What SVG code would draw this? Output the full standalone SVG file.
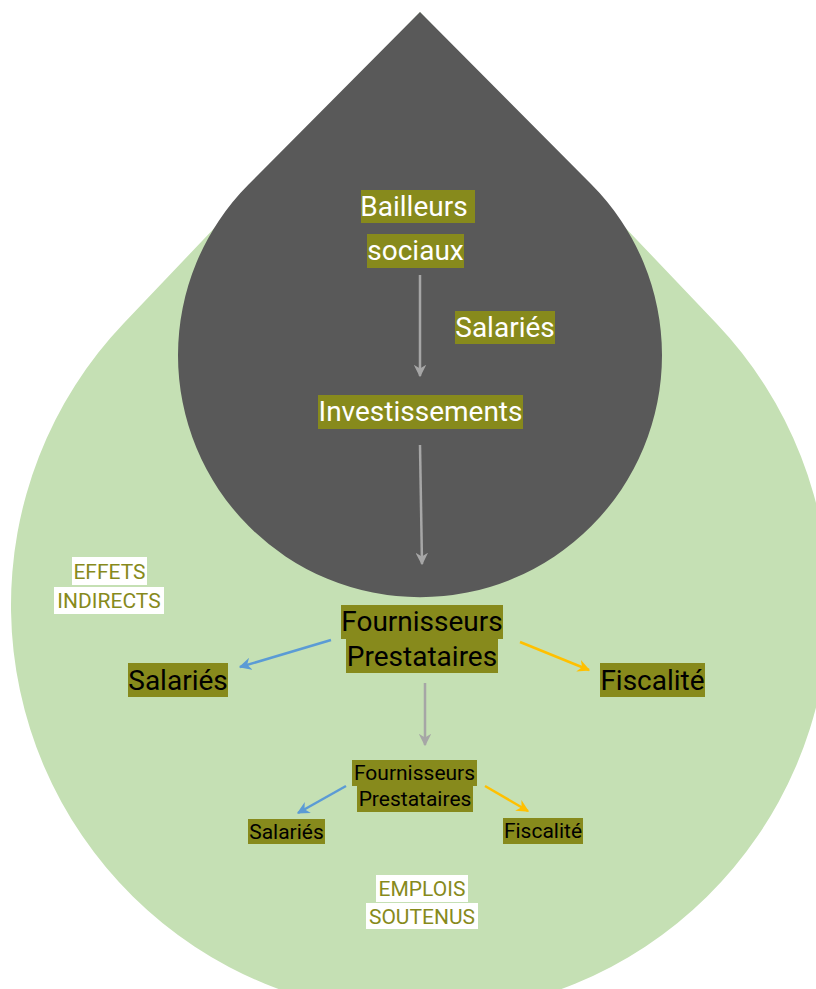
<svg xmlns="http://www.w3.org/2000/svg" width="816" height="989" viewBox="0 0 816 989">
<style>
  .t { font-family: Roboto, "Liberation Sans", sans-serif; text-anchor: middle; }
  .w { fill: #ffffff; font-size: 28px; }
  .b { fill: #000000; font-size: 28px; }
  .s { fill: #000000; font-size: 21px; }
  .o { fill: #878A1C; font-size: 21px; }
  .box { fill: #878A1C; }
  .wb { fill: #ffffff; }
  .gray { stroke: #A6A6A6; stroke-width: 2.5; fill: none; }
  .blue { stroke: #5B9BD5; stroke-width: 2.5; fill: none; }
  .yel { stroke: #FFC000; stroke-width: 2.5; fill: none; }
</style>
<defs>
  <marker id="ag" viewBox="0 0 10 10" refX="9" refY="5" markerWidth="5" markerHeight="5" orient="auto" markerUnits="strokeWidth">
    <path d="M0,0 L10,5 L0,10 L3,5 Z" fill="#A6A6A6"/>
  </marker>
  <marker id="ab" viewBox="0 0 10 10" refX="9" refY="5" markerWidth="5" markerHeight="5" orient="auto" markerUnits="strokeWidth">
    <path d="M0,0 L10,5 L0,10 L3,5 Z" fill="#5B9BD5"/>
  </marker>
  <marker id="ay" viewBox="0 0 10 10" refX="9" refY="5" markerWidth="5" markerHeight="5" orient="auto" markerUnits="strokeWidth">
    <path d="M0,0 L10,5 L0,10 L3,5 Z" fill="#FFC000"/>
  </marker>
</defs>
<g id="green-drop">
  <path d="M420,12 L124,323 A409,409 0 1 0 716,323 Z" fill="#C5E0B4"/>
</g>
<g id="dark-drop">
  <path d="M420,12 L249,184 A242,242 0 1 0 591,184 Z" fill="#595959"/>
</g>
<g id="connectors">
  <line class="gray" x1="420" y1="275" x2="420" y2="376" marker-end="url(#ag)"/>
  <line class="gray" x1="420" y1="445" x2="422" y2="564" marker-end="url(#ag)"/>
  <line class="blue" x1="331" y1="640" x2="240" y2="667" marker-end="url(#ab)"/>
  <line class="yel" x1="520" y1="642" x2="589" y2="670" marker-end="url(#ay)"/>
  <line class="gray" x1="425" y1="683" x2="425" y2="745" marker-end="url(#ag)"/>
  <line class="blue" x1="346" y1="786" x2="298" y2="813" marker-end="url(#ab)"/>
  <line class="yel" x1="485" y1="786" x2="528" y2="811" marker-end="url(#ay)"/>
</g>
<g id="bailleurs">
  <rect class="box" x="361" y="190" width="114" height="33"/>
  <text class="t w" x="414" y="216">Bailleurs</text>
  <rect class="box" x="367" y="234" width="97" height="34"/>
  <text class="t w" x="415.5" y="260">sociaux</text>
</g>
<g id="salaries-top">
  <rect class="box" x="455" y="311" width="100" height="33"/>
  <text class="t w" x="505" y="337">Salariés</text>
</g>
<g id="investissements">
  <rect class="box" x="318" y="395" width="205" height="34"/>
  <text class="t w" x="420.5" y="421">Investissements</text>
</g>
<g id="fournisseurs1">
  <rect class="box" x="341" y="605" width="162" height="34"/>
  <text class="t b" x="422" y="631">Fournisseurs</text>
  <rect class="box" x="346" y="639" width="152" height="34"/>
  <text class="t b" x="422" y="666">Prestataires</text>
</g>
<g id="salaries1">
  <rect class="box" x="128" y="663" width="100" height="34"/>
  <text class="t b" x="178" y="690">Salariés</text>
</g>
<g id="fiscalite1">
  <rect class="box" x="600" y="663" width="105" height="34"/>
  <text class="t b" x="652.5" y="690">Fiscalité</text>
</g>
<g id="fournisseurs2">
  <rect class="box" x="352" y="760" width="125" height="26"/>
  <text class="t s" x="414.5" y="780">Fournisseurs</text>
  <rect class="box" x="357" y="786" width="116" height="26"/>
  <text class="t s" x="415" y="806">Prestataires</text>
</g>
<g id="salaries2">
  <rect class="box" x="248" y="819" width="77" height="25"/>
  <text class="t s" x="286.5" y="839">Salariés</text>
</g>
<g id="fiscalite2">
  <rect class="box" x="503" y="818" width="80" height="26"/>
  <text class="t s" x="543" y="838">Fiscalité</text>
</g>
<g id="effets">
  <rect class="wb" x="72" y="557" width="75" height="28"/>
  <text class="t o" x="109.5" y="579">EFFETS</text>
  <rect class="wb" x="54" y="587" width="110" height="27"/>
  <text class="t o" x="109" y="608">INDIRECTS</text>
</g>
<g id="emplois">
  <rect class="wb" x="376" y="875" width="92" height="27"/>
  <text class="t o" x="422" y="896">EMPLOIS</text>
  <rect class="wb" x="366" y="903" width="112" height="26"/>
  <text class="t o" x="422" y="924">SOUTENUS</text>
</g>
</svg>
